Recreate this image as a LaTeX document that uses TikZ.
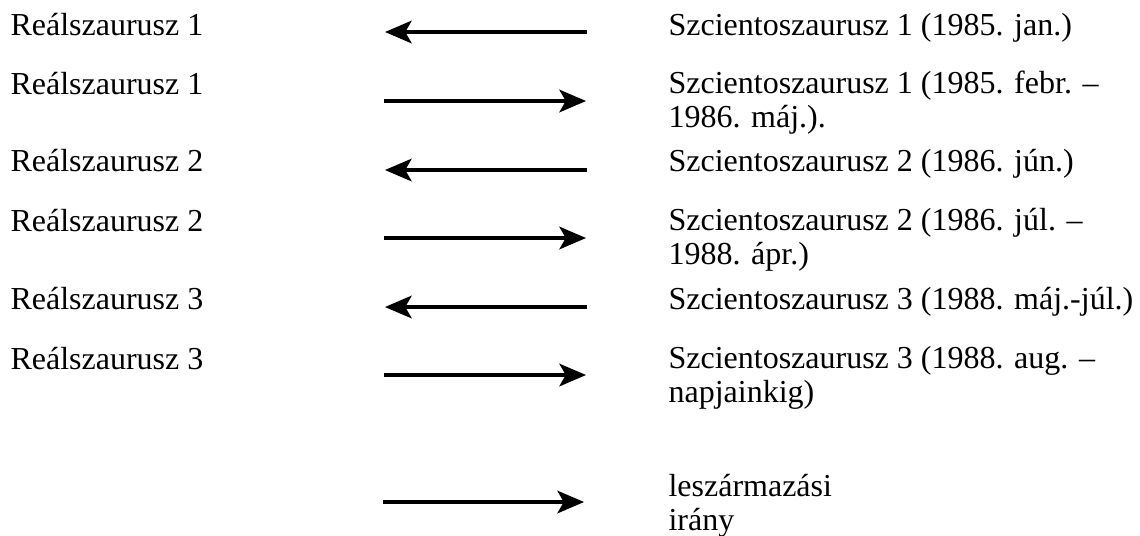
\documentclass[tikz,border=0pt]{standalone}
\usepackage{fontspec}
\setmainfont{Liberation Serif}
\usetikzlibrary{arrows.meta}

\begin{document}
\begin{tikzpicture}[
  x=0.375pt, y=-0.375pt,
  lbl/.style={anchor=base west, inner sep=0pt, align=left, font=\fontsize{12}{12.4}\selectfont},
  dir/.style={-{Stealth[length=10pt, width=8.5pt, inset=2.4pt]}, line width=1.2pt, black}
]
\useasboundingbox (0,0) rectangle (1140,535);

% Real thesauri (left column)
\node[lbl] (r1a) at (10,35) {Reálszaurusz 1};
\node[lbl] (r1b) at (10,94) {Reálszaurusz 1};
\node[lbl] (r2a) at (10,171) {Reálszaurusz 2};
\node[lbl] (r2b) at (10,231) {Reálszaurusz 2};
\node[lbl] (r3a) at (10,309) {Reálszaurusz 3};
\node[lbl] (r3b) at (10,369) {Reálszaurusz 3};

% Scientometric thesauri (right column)
% (two-line labels sit on the baseline of their last line)
\node[lbl] (s1a) at (668,35) {Szcientoszaurusz 1 (1985. jan.)};
\node[lbl] (s1b) at (668,127) {Szcientoszaurusz 1 (1985. febr. --\\1986. máj.).};
\node[lbl] (s2a) at (668,171) {Szcientoszaurusz 2 (1986. jún.)};
\node[lbl] (s2b) at (668,264) {Szcientoszaurusz 2 (1986. júl. --\\1988. ápr.)};
\node[lbl] (s3a) at (668,309) {Szcientoszaurusz 3 (1988. máj.-júl.)};
\node[lbl] (s3b) at (668,402) {Szcientoszaurusz 3 (1988. aug. --\\napjainkig)};

% Arrow ends
\coordinate (a1l) at (385,32);  \coordinate (a1r) at (587,32);
\coordinate (a2l) at (384,101); \coordinate (a2r) at (586,101);
\coordinate (a3l) at (385,170); \coordinate (a3r) at (587,170);
\coordinate (a4l) at (384,238); \coordinate (a4r) at (586,238);
\coordinate (a5l) at (385,307); \coordinate (a5r) at (587,307);
\coordinate (a6l) at (384,375); \coordinate (a6r) at (586,375);

% Arrows
\draw[dir] (a1r) -- (a1l);
\draw[dir] (a2l) -- (a2r);
\draw[dir] (a3r) -- (a3l);
\draw[dir] (a4l) -- (a4r);
\draw[dir] (a5r) -- (a5l);
\draw[dir] (a6l) -- (a6r);

% Legend
\coordinate (legl) at (383,502); \coordinate (legr) at (584,502);
\draw[dir] (legl) -- (legr);
\node[lbl] (leg) at (668,530) {leszármazási\\irány};

\end{tikzpicture}
\end{document}
